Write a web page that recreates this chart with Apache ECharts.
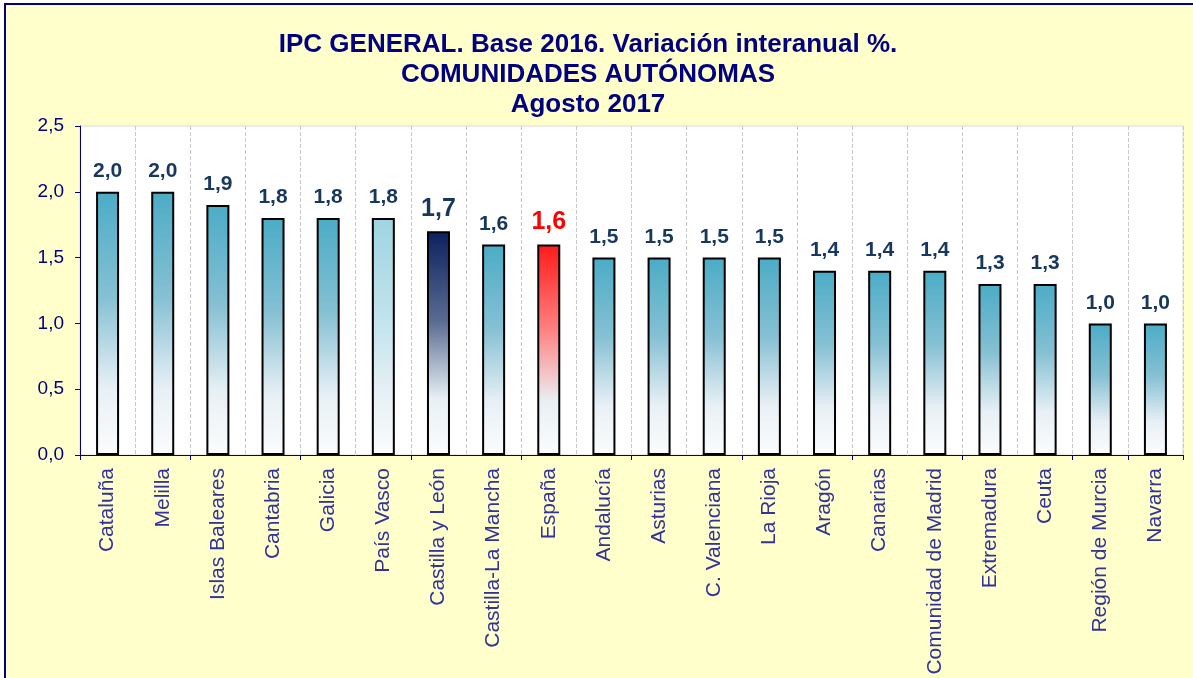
<!DOCTYPE html>
<html>
<head>
<meta charset="utf-8">
<script src="https://cdn.jsdelivr.net/npm/echarts@6/dist/echarts.min.js"></script>
<style>html,body{margin:0;padding:0;background:#fff}#c{width:1193px;height:678px}</style>
</head>
<body>
<div id="c"></div>
<script>
const categories = ['Cataluña','Melilla','Islas Baleares','Cantabria','Galicia','País Vasco','Castilla y León','Castilla-La Mancha','España','Andalucía','Asturias','C. Valenciana','La Rioja','Aragón','Canarias','Comunidad de Madrid','Extremadura','Ceuta','Región de Murcia','Navarra'];
const values = [2.0,2.0,1.9,1.8,1.8,1.8,1.7,1.6,1.6,1.5,1.5,1.5,1.5,1.4,1.4,1.4,1.3,1.3,1.0,1.0];
const yTicks = [0,0.5,1.0,1.5,2.0,2.5];
const titleLines = ['IPC GENERAL. Base 2016. Variación interanual %.','COMUNIDADES AUTÓNOMAS','Agosto 2017'];

function grad(top, mid){
  return {type:'linear',x:0,y:0,x2:0,y2:1,colorStops:[
    {offset:0,color:top},{offset:0.4,color:mid},{offset:0.75,color:'#e8f0f5'},{offset:1,color:'#fbfcfd'}]};
}
const styles = {
  'País Vasco': {fill: grad('#9fd4e2','#bfe2ec'), label:{fontSize:21,color:'#17375E'}},
  'Castilla y León': {fill: grad('#0c205e','#5a6b92'), label:{fontSize:25,color:'#17375E'}},
  'España': {fill: grad('#ff1a1a','#ff8080'), label:{fontSize:25,color:'#ff0000'}}
};
const defStyle = {fill: grad('#4bacc6','#86c0d3'), label:{fontSize:21,color:'#17375E'}};
const fmt = v => v.toFixed(1).replace('.', ',');

const data = values.map((v,i)=>{
  const s = styles[categories[i]] || defStyle;
  return {value:v, itemStyle:{color:s.fill}, label:{fontSize:s.label.fontSize,color:s.label.color}};
});

const chart = echarts.init(document.getElementById('c'));
chart.setOption({
  backgroundColor:'#ffffff',
  animation:false,
  graphic:[{type:'rect',z:-10,shape:{x:5,y:4,width:1200,height:690},style:{fill:'#FFFFCC',stroke:'#000080',lineWidth:2}}],
  title:{text:titleLines.join('\n'),left:583,textAlign:'center',top:25,
    textStyle:{fontFamily:'Liberation Sans, Arial',fontWeight:'bold',fontSize:26,color:'#000080',lineHeight:30}},
  grid:{left:80,right:10,top:126,bottom:223,show:true,backgroundColor:'#ffffff',borderColor:'#d9d9d9',borderWidth:1},
  xAxis:{type:'category',data:categories,
    axisLine:{lineStyle:{color:'#000080',width:1}},
    axisTick:{show:true,interval:1,length:5,lineStyle:{color:'#000080'}},
    splitLine:{show:true,interval:0,lineStyle:{color:'#c8c8c8',type:'dashed',width:1}},
    axisLabel:{interval:0,rotate:90,margin:13,fontFamily:'Liberation Sans, Arial',fontSize:21,color:'#333399'}},
  yAxis:{type:'value',min:0,max:2.5,interval:0.5,
    axisLine:{show:true,lineStyle:{color:'#000080',width:1}},
    axisTick:{show:true,length:5,lineStyle:{color:'#000080'}},
    splitLine:{show:false},
    axisLabel:{formatter:v=>fmt(v),fontFamily:'Liberation Sans, Arial',fontSize:19,color:'#000080',margin:16}},
  series:[{type:'bar',data:data,barWidth:23,
    itemStyle:{borderColor:'#000000',borderWidth:2},
    label:{show:true,position:'top',distance:10,fontFamily:'Liberation Sans, Arial',fontWeight:'bold',formatter:p=>fmt(p.value)}}]
});
</script>
</body>
</html>
